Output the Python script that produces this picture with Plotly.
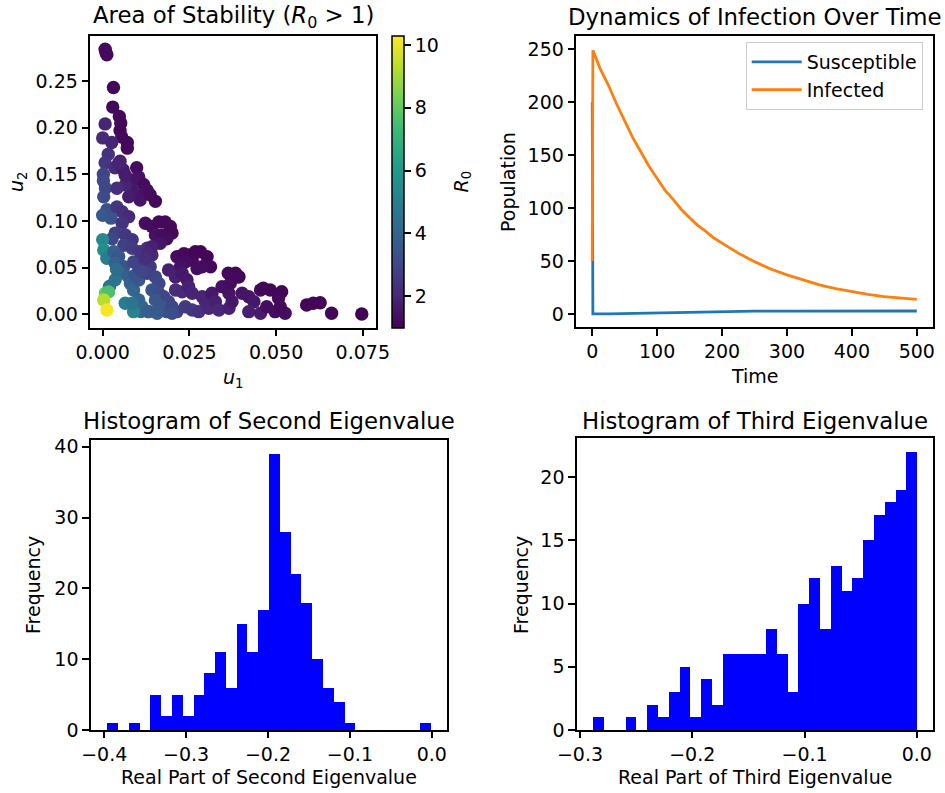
import numpy as np
import plotly.graph_objects as go

# ---------------- data ----------------
# Scatter: Area of stability (u1, u2, R0)
u1 = [0.0007, 0.0012, 0.0009, 0.0031, 0.0029, 0.0048, 0.0052, 0.0050, 0.0055, 0.0007,
      0.0000, 0.0026, 0.0071, 0.0071, 0.0016, 0.0007, 0.0050, 0.0035, 0.0059, 0.0098,
      0.0002, 0.0002, 0.0046, 0.0104, 0.0089, 0.0118, 0.0128, 0.0113, 0.0085, 0.0075,
      0.0108, 0.0137, 0.0152, 0.0065, 0.0065, 0.0008, 0.0003, 0.0041, 0.0012, 0.0000,
      0.0024, 0.0041, 0.0056, 0.0075, 0.0056, 0.0036, 0.0027, 0.0065, 0.0085, 0.0061,
      0.0000, 0.0003, 0.0012, 0.0032, 0.0046, 0.0036, 0.0061, 0.0051, 0.0036, 0.0040,
      0.0080, 0.0089, 0.0075, 0.0104, 0.0094, 0.0113, 0.0133, 0.0104, 0.0089, 0.0104,
      0.0123, 0.0137, 0.0128, 0.0113, 0.0085, 0.0108, 0.0128, 0.0142, 0.0152, 0.0162,
      0.0142, 0.0162, 0.0176, 0.0190, 0.0152, 0.0171, 0.0157, 0.0185, 0.0200, 0.0214,
      0.0200, 0.0123, 0.0142, 0.0162, 0.0180, 0.0195, 0.0200, 0.0152, 0.0171, 0.0185,
      0.0166, 0.0142, 0.0133, 0.0123, 0.0214, 0.0234, 0.0248, 0.0258, 0.0238, 0.0224,
      0.0267, 0.0282, 0.0301, 0.0311, 0.0287, 0.0272, 0.0190, 0.0210, 0.0229, 0.0243,
      0.0210, 0.0229, 0.0248, 0.0258, 0.0238, 0.0258, 0.0277, 0.0306, 0.0296, 0.0287,
      0.0315, 0.0325, 0.0335, 0.0364, 0.0373, 0.0364, 0.0344, 0.0368, 0.0393, 0.0383,
      0.0402, 0.0421, 0.0436, 0.0421, 0.0455, 0.0455, 0.0463, 0.0483, 0.0516, 0.0507,
      0.0473, 0.0497, 0.0526, 0.0512, 0.0588, 0.0607, 0.0627, 0.0660, 0.0747, 0.0362,
      0.0391, 0.0110, 0.0130, 0.0156, 0.0020, 0.0065, 0.0089, 0.0085, 0.0008, 0.0017,
      0.0003, 0.0012]
u2 = [0.284, 0.278, 0.281, 0.243, 0.222, 0.212, 0.205, 0.197, 0.190, 0.204,
      0.189, 0.184, 0.184, 0.178, 0.1715, 0.1625, 0.164, 0.157, 0.155, 0.157,
      0.150, 0.143, 0.162, 0.147, 0.144, 0.139, 0.133, 0.128, 0.133, 0.126,
      0.1225, 0.128, 0.121, 0.1385, 0.149, 0.135, 0.126, 0.135, 0.112, 0.106,
      0.103, 0.115, 0.110, 0.1046, 0.0975, 0.087, 0.081, 0.085, 0.080, 0.074,
      0.080, 0.069, 0.060, 0.067, 0.062, 0.0547, 0.051, 0.044, 0.037, 0.048,
      0.033, 0.026, 0.040, 0.0368, 0.042, 0.008, 0.0028, 0.0153, 0.056, 0.051,
      0.0547, 0.051, 0.044, 0.0457, 0.0707, 0.067, 0.0707, 0.0635, 0.040, 0.033,
      0.026, 0.0225, 0.0189, 0.0135, 0.0153, 0.008, 0.0011, 0.0028, 0.008, 0.0028,
      0.0011, 0.0975, 0.094, 0.099, 0.099, 0.094, 0.087, 0.085, 0.085, 0.081,
      0.076, 0.0725, 0.065, 0.060, 0.0617, 0.065, 0.0636, 0.058, 0.056, 0.051,
      0.067, 0.067, 0.0617, 0.051, 0.051, 0.049, 0.0475, 0.040, 0.044, 0.037,
      0.026, 0.024, 0.0296, 0.0225, 0.008, 0.0046, 0.0028, 0.0064, 0.0135, 0.0189,
      0.0225, 0.0135, 0.0046, 0.0064, 0.0135, 0.0225, 0.0296, 0.0333, 0.0403, 0.044,
      0.0225, 0.0189, 0.0135, 0.0028, 0.0011, 0.026, 0.0279, 0.026, 0.0242, 0.0171,
      0.0081, 0.0028, 0.0011, 0.0081, 0.010, 0.0118, 0.0124, 0.0011, 0.0003, 0.044,
      0.040, 0.003, 0.003, 0.003, 0.030, 0.0118, 0.0028, 0.0118, 0.0225, 0.024,
      0.0153, 0.0046]
r0 = [1.2, 1.2, 1.2, 1.1, 1.2, 1.2, 1.2, 1.1, 1.2, 1.9,
      2.1, 1.9, 1.2, 1.2, 2.4, 2.5, 1.8, 2.1, 1.7, 1.3,
      2.9, 3.0, 1.9, 1.4, 1.5, 1.3, 1.3, 1.4, 1.6, 1.7,
      1.5, 1.3, 1.2, 1.9, 1.7, 3.0, 3.1, 2.2, 3.3, 3.6,
      3.4, 2.5, 2.3, 2.1, 2.4, 2.8, 3.0, 2.5, 2.4, 2.8,
      5.4, 5.6, 4.9, 3.8, 3.5, 3.9, 3.4, 3.9, 4.6, 4.3,
      3.9, 4.0, 3.8, 3.5, 3.4, 4.1, 4.0, 4.0, 2.9, 2.9,
      2.6, 2.5, 2.8, 3.0, 2.6, 2.4, 2.2, 2.1, 2.9, 3.0,
      3.4, 3.2, 3.0, 3.0, 3.5, 3.5, 3.8, 3.3, 3.0, 2.9,
      3.2, 1.3, 1.3, 1.2, 1.2, 1.2, 1.2, 1.4, 1.3, 1.3,
      1.5, 1.8, 2.0, 2.2, 1.3, 1.2, 1.2, 1.2, 1.3, 1.4,
      1.1, 1.1, 1.1, 1.2, 1.3, 1.3, 1.8, 1.8, 1.6, 1.6,
      2.2, 2.1, 1.8, 1.9, 2.6, 2.5, 2.3, 2.0, 2.0, 1.9,
      1.6, 1.8, 2.0, 1.8, 1.6, 1.5, 1.4, 1.3, 1.2, 1.2,
      1.5, 1.5, 1.6, 1.8, 1.7, 1.3, 1.1, 1.1, 1.1, 1.2,
      1.3, 1.3, 1.3, 1.2, 1.1, 1.1, 1.1, 1.1, 1.0, 1.2,
      1.2, 4.0, 3.8, 3.6, 4.5, 5.0, 5.2, 4.6, 8.0, 7.6,
      9.3, 10.2]

# Dynamics of infection
time_s = [0, 1, 25, 50, 75, 100, 150, 200, 250, 300, 400, 500]
susceptible = [200, 0.3, 0.2, 0.5, 0.9, 1.3, 2.0, 2.5, 2.7, 2.8, 2.9, 2.9]
time_i = [0, 1, 12, 25, 37, 50, 62, 75, 87, 100, 112, 125, 137, 150, 162, 175, 187, 200,
          225, 250, 275, 300, 325, 350, 375, 400, 425, 450, 475, 500]
infected = [50, 249, 232, 216, 199, 183, 167, 153, 140, 128, 117, 108, 99, 91, 84, 78, 72, 67,
            57.5, 49.5, 42.5, 37, 32, 27.5, 24, 21, 18.5, 16.5, 15, 13.8]

# Histogram of second eigenvalue (30 bins)
second_min, second_max = -0.3967, -0.0016
second_counts = [1, 0, 1, 0, 5, 2, 5, 2, 5, 8, 11, 6, 15, 11, 17,
                 39, 28, 22, 18, 10, 6, 4, 1, 0, 0, 0, 0, 0, 0, 1]
# Histogram of third eigenvalue (30 bins)
third_min, third_max = -0.2885, 0.0
third_counts = [1, 0, 0, 1, 0, 2, 1, 3, 5, 1, 4, 2, 6, 6, 6,
                6, 8, 6, 3, 10, 12, 8, 13, 11, 12, 15, 17, 18, 19, 22]

# ---------------- figure ----------------
W, H = 945, 793
FONT = "DejaVu Sans"


def px_x(p):
    return p / W


def px_y(p):
    return 1 - p / H


def bins(lo, hi, counts):
    edges = np.linspace(lo, hi, len(counts) + 1)
    return (edges[:-1] + edges[1:]) / 2, edges[1] - edges[0]


fig = go.Figure()

fig.add_trace(go.Scatter(
    x=u1, y=u2, mode="markers", xaxis="x", yaxis="y", showlegend=False,
    marker=dict(size=13.4, color=r0, colorscale="Viridis", cmin=0.98, cmax=10.29,
                line=dict(width=0),
                colorbar=dict(thickness=11.7, x=px_x(391.7), xanchor="left", xpad=0,
                              len=292, lenmode="pixels", y=px_y(182), yanchor="middle", ypad=0,
                              outlinewidth=1.5, outlinecolor="black",
                              ticks="outside", ticklen=6.6, tickwidth=1.5, tickcolor="black",
                              tickvals=[2, 4, 6, 8, 10],
                              tickfont=dict(family=FONT, size=19, color="black"))),
))

fig.add_trace(go.Scatter(x=time_s, y=susceptible, mode="lines", name="Susceptible",
                         line=dict(color="#1f77b4", width=2.8),
                         xaxis="x2", yaxis="y2", legendgroup="s"))
fig.add_trace(go.Scatter(x=time_i, y=infected, mode="lines", name="Infected",
                         line=dict(color="#ff7f0e", width=2.8),
                         xaxis="x2", yaxis="y2", legendgroup="i"))

c2, w2 = bins(second_min, second_max, second_counts)
fig.add_trace(go.Bar(x=c2, y=second_counts, width=w2, marker=dict(color="#0000ff", line=dict(width=0)),
                     xaxis="x3", yaxis="y3", showlegend=False))
c3, w3 = bins(third_min, third_max, third_counts)
fig.add_trace(go.Bar(x=c3, y=third_counts, width=w3, marker=dict(color="#0000ff", line=dict(width=0)),
                     xaxis="x4", yaxis="y4", showlegend=False))

axis_style = dict(showline=True, mirror=True, linecolor="black", linewidth=1.5,
                  ticks="outside", ticklen=6.6, tickwidth=1.5, tickcolor="black",
                  showgrid=False, zeroline=False, automargin=False,
                  tickfont=dict(family=FONT, size=19, color="black"))

fig.update_layout(
    width=W, height=H, margin=dict(l=0, r=0, t=0, b=0, autoexpand=False),
    paper_bgcolor="white", plot_bgcolor="white",
    font=dict(family=FONT, size=19, color="black"),
    bargap=0,
    xaxis=dict(domain=[px_x(90), px_x(376)], range=[-0.00366, 0.0788], anchor="y",
               tickvals=[0, 0.025, 0.05, 0.075], tickformat=".3f", **axis_style),
    yaxis=dict(domain=[px_y(328), px_y(36)], range=[-0.0147, 0.2982], anchor="x",
               tickvals=[0, 0.05, 0.1, 0.15, 0.2, 0.25], tickformat=".2f", **axis_style),
    xaxis2=dict(domain=[px_x(576), px_x(933)], range=[-25, 525], anchor="y2",
                tickvals=[0, 100, 200, 300, 400, 500], **axis_style),
    yaxis2=dict(domain=[px_y(327.3), px_y(36)], range=[-12.5, 262.5], anchor="x2",
                tickvals=[0, 50, 100, 150, 200, 250], **axis_style),
    xaxis3=dict(domain=[px_x(90.7), px_x(446.7)], range=[-0.4165, 0.0182], anchor="y3",
                tickvals=[-0.4, -0.3, -0.2, -0.1, 0.0], tickformat=".1f", **axis_style),
    yaxis3=dict(domain=[px_y(730), px_y(440)], range=[0, 40.95], anchor="x3",
                tickvals=[0, 10, 20, 30, 40], **axis_style),
    xaxis4=dict(domain=[px_x(576.7), px_x(933)], range=[-0.3029, 0.0144], anchor="y4",
                tickvals=[-0.3, -0.2, -0.1, 0.0], tickformat=".1f", **axis_style),
    yaxis4=dict(domain=[px_y(730), px_y(438)], range=[0, 23.1], anchor="x4",
                tickvals=[0, 5, 10, 15, 20], **axis_style),
    legend=dict(x=px_x(922.7), y=px_y(42), xanchor="right", yanchor="top",
                bgcolor="rgba(255,255,255,0.8)", bordercolor="#cccccc", borderwidth=1,
                itemwidth=50,
                font=dict(family=FONT, size=19, color="black"), tracegroupgap=0),
)

ann = []


def text(x, y, s, size=19, angle=0):
    ann.append(dict(x=px_x(x), y=px_y(y), xref="paper", yref="paper", text=s,
                    showarrow=False, xanchor="center", yanchor="middle", textangle=angle,
                    font=dict(family=FONT, size=size, color="black")))


# titles
text(233, 17, "Area of Stability (<i>R</i><sub>0</sub> > 1)", size=22.8)
text(754.5, 17, "Dynamics of Infection Over Time", size=22.8)
text(268.7, 421, "Histogram of Second Eigenvalue", size=22.8)
text(754.8, 421, "Histogram of Third Eigenvalue", size=22.8)
# axis labels
text(233, 378, "<i>u</i><sub>1</sub>")
text(17, 182, "<i>u</i><sub>2</sub>", angle=-90)
text(461.5, 182, "<i>R</i><sub>0</sub>", angle=-90)
text(754.5, 376, "Time")
text(508, 182, "Population", angle=-90)
text(268.7, 777, "Real Part of Second Eigenvalue")
text(33, 585, "Frequency", angle=-90)
text(754.8, 777, "Real Part of Third Eigenvalue")
text(521, 585, "Frequency", angle=-90)

fig.update_layout(annotations=ann)
fig.write_html("out.html")
